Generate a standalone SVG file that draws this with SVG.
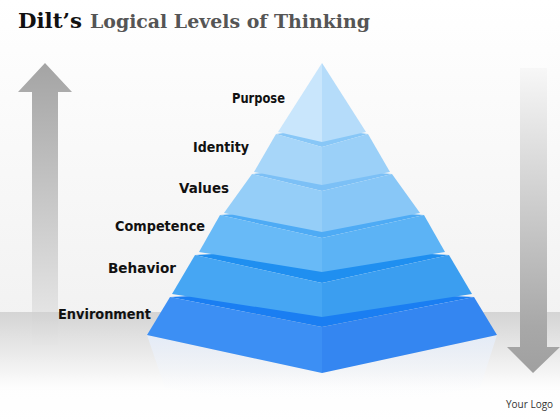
<svg xmlns="http://www.w3.org/2000/svg" width="560" height="420" viewBox="0 0 560 420">
<defs>
  <linearGradient id="bg" x1="0" y1="0" x2="0" y2="1">
    <stop offset="0" stop-color="#ffffff"/>
    <stop offset="1" stop-color="#eeeeee"/>
  </linearGradient>
  <linearGradient id="floor" x1="0" y1="0" x2="0" y2="1">
    <stop offset="0" stop-color="#cfcfcf" stop-opacity="0.85"/>
    <stop offset="0.7" stop-color="#ffffff" stop-opacity="0.9"/>
    <stop offset="1" stop-color="#ffffff" stop-opacity="1"/>
  </linearGradient>
  <linearGradient id="upArrow" x1="0" y1="63" x2="0" y2="345" gradientUnits="userSpaceOnUse">
    <stop offset="0" stop-color="#a4a4a4"/>
    <stop offset="1" stop-color="#ececec"/>
  </linearGradient>
  <linearGradient id="downArrow" x1="0" y1="65" x2="0" y2="372" gradientUnits="userSpaceOnUse">
    <stop offset="0" stop-color="#f8f8f8"/>
    <stop offset="0.85" stop-color="#a8a8a8"/>
    <stop offset="1" stop-color="#a0a0a0"/>
  </linearGradient>
  <linearGradient id="refl" x1="0" y1="335" x2="0" y2="405" gradientUnits="userSpaceOnUse">
    <stop offset="0" stop-color="#e4ecf9" stop-opacity="0.95"/>
    <stop offset="1" stop-color="#ffffff" stop-opacity="0"/>
  </linearGradient>
  <style>
    .lbl { font-family: "DejaVu Sans", "Liberation Sans", sans-serif; font-weight: bold; font-size: 13.5px; fill: #111111; text-anchor: end; }
    .ttl { font-family: "DejaVu Serif", "Liberation Serif", serif; font-weight: bold; }
    .logo { font-family: "Open Sans", "Liberation Sans", sans-serif; font-size: 10px; fill: #333333; }
  </style>
</defs>

<rect x="0" y="0" width="560" height="420" fill="url(#bg)"/>

<g id="arrows">
  <polygon id="arrow-up" points="45,63 72,92 58,92 58,345 32,345 32,92 18,92" fill="url(#upArrow)"/>
</g>

<rect x="0" y="312" width="560" height="108" fill="url(#floor)"/>

<g id="arrows-2">
  <polygon id="arrow-down" points="520,68 547,68 547,347 560,347 533,373 507,347 520,347" fill="url(#downArrow)"/>
</g>

<polygon points="147,335 322,373 497,335 480,388 322,410 165,388" fill="url(#refl)"/>

<g id="title">
  <text class="ttl" x="18" y="28" font-size="21" fill="#111111" textLength="64" lengthAdjust="spacingAndGlyphs">Dilt’s</text>
  <text class="ttl" x="90" y="28" font-size="18" fill="#555555" textLength="280" lengthAdjust="spacingAndGlyphs">Logical Levels of Thinking</text>
</g>

<g id="tier-environment">
  <polygon points="170,297 322,327 474,297 322,290" fill="#1a7ef2"/>
  <polygon points="170,297 322,327 322,373 147,335" fill="#3c8ff4"/>
  <polygon points="474,297 322,327 322,373 497,335" fill="#3486f1"/>
  <text class="lbl" x="151" y="319" textLength="93" lengthAdjust="spacingAndGlyphs">Environment</text>
</g>

<g id="tier-behavior">
  <polygon points="195,255 322,283 449,255 322,248" fill="#1f8ff0"/>
  <polygon points="195,255 322,283 322,317 172,294" fill="#46a6f3"/>
  <polygon points="449,255 322,283 322,317 472,294" fill="#3b9ef0"/>
  <text class="lbl" x="176" y="273" textLength="68" lengthAdjust="spacingAndGlyphs">Behavior</text>
</g>

<g id="tier-competence">
  <polygon points="220,215 322,238 424,215 322,208" fill="#4eabf5"/>
  <polygon points="220,215 322,238 322,272 199,252" fill="#68baf7"/>
  <polygon points="424,215 322,238 322,272 445,252" fill="#5cb3f5"/>
  <text class="lbl" x="205" y="231" textLength="90" lengthAdjust="spacingAndGlyphs">Competence</text>
</g>

<g id="tier-values">
  <polygon points="252,174 322,191 392,174 322,168" fill="#7cc0f6"/>
  <polygon points="252,174 322,191 322,232 224,213" fill="#95cef8"/>
  <polygon points="392,174 322,191 322,232 420,213" fill="#88c7f7"/>
  <text class="lbl" x="229" y="193" textLength="50" lengthAdjust="spacingAndGlyphs">Values</text>
</g>

<g id="tier-identity">
  <polygon points="276,134 322,147 368,134 322,128" fill="#88c7f7"/>
  <polygon points="276,134 322,147 322,185 254,172" fill="#a7d6f9"/>
  <polygon points="368,134 322,147 322,185 390,172" fill="#9bd0f8"/>
  <text class="lbl" x="249" y="152" textLength="56" lengthAdjust="spacingAndGlyphs">Identity</text>
</g>

<g id="tier-purpose">
  <polygon points="322,63 278,132 322,142" fill="#c9e6fc"/>
  <polygon points="322,63 366,132 322,142" fill="#b5dcfa"/>
  <text class="lbl" x="285" y="103" textLength="53" lengthAdjust="spacingAndGlyphs">Purpose</text>
</g>

<text class="logo" x="506" y="408">Your Logo</text>
</svg>
